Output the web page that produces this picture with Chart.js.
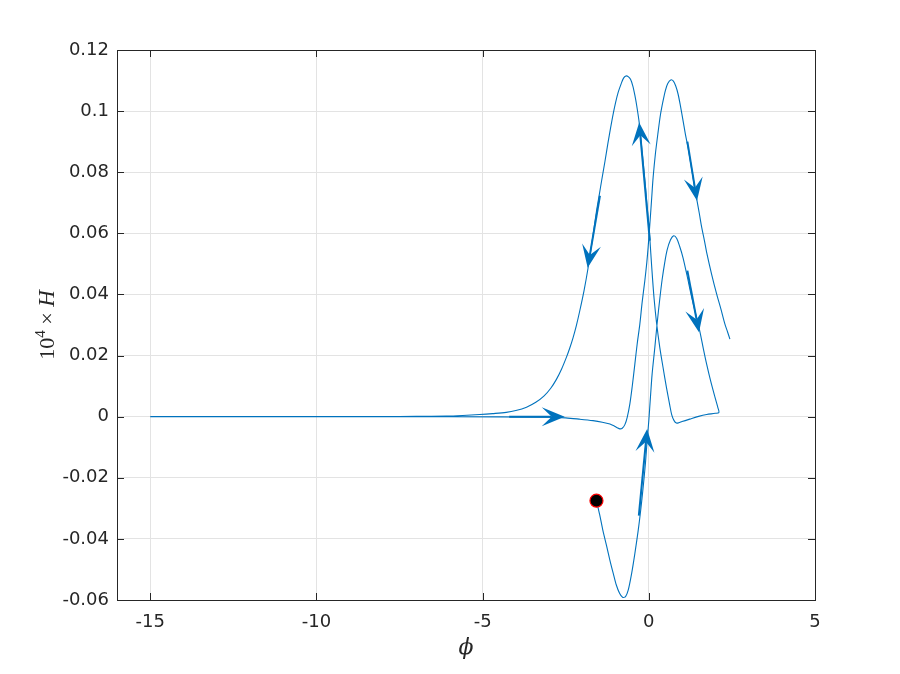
<!DOCTYPE html>
<html>
<head>
<meta charset="utf-8">
<script src="https://cdn.jsdelivr.net/npm/chart.js@4.4.1/dist/chart.umd.min.js"></script>
<style>
    html, body { margin: 0; padding: 0; background: #fff; }
    #wrap { width: 900px; height: 674px; }
</style>
</head>
<body>
<div id="wrap"><canvas id="phaseChart" width="900" height="674"></canvas></div>
<script>
// trajectory (phi, 10^4 H) in drawing order
const trajX = [-1.575, -1.48, -1.38, -1.27, -1.17, -1.07, -0.98, -0.88, -0.79, -0.7, -0.62, -0.52, -0.42, -0.32, -0.24, -0.17, -0.1, -0.05, 0.0,
    0.05, 0.1, 0.18, 0.25, 0.33, 0.4, 0.48, 0.55, 0.65, 0.75, 0.84, 0.93, 1.03, 1.15, 1.3, 1.42, 1.54, 1.64, 1.74, 1.86, 1.99, 2.08, 2.11,
    2.0, 1.74, 1.5, 1.23, 1.0, 0.9, 0.83, 0.76, 0.69, 0.63, 0.53, 0.43, 0.33, 0.23, 0.16, 0.11, 0.06, 0.01,
    -0.05, -0.1, -0.2, -0.29, -0.36, -0.42, -0.48, -0.55, -0.62, -0.69, -0.76, -0.83, -0.92, -1.0, -1.07, -1.15, -1.23, -1.32, -1.42, -1.5, -1.58, -1.7, -1.83,
    -1.95, -2.08, -2.18, -2.28, -2.38, -2.48, -2.62, -2.78, -2.95, -3.15, -3.4, -3.68, -4.0, -4.29, -4.7, -5.09, -5.6, -6.09, -7, -8, -11, -15,
    -11, -6, -3, -2.5, -2.1, -1.68, -1.4, -1.17, -1.03, -0.95, -0.87, -0.8, -0.72, -0.65, -0.57, -0.5, -0.42, -0.35, -0.27, -0.2, -0.12, -0.06, -0.02, 0.03,
    0.08, 0.13, 0.2, 0.28, 0.35, 0.43, 0.5, 0.57, 0.66, 0.74, 0.81, 0.88, 0.95, 1.03, 1.1, 1.18, 1.25, 1.32, 1.38, 1.45, 1.52, 1.59, 1.67, 1.74, 1.89, 2.04, 2.17, 2.29, 2.37, 2.44];
const trajY = [-0.0275, -0.032, -0.0373, -0.0423, -0.047, -0.0513, -0.055, -0.0578, -0.0591, -0.0589, -0.0568, -0.0515, -0.0448, -0.0373, -0.0302, -0.0231, -0.0151, -0.0079, -0.0013,
    0.0065, 0.014, 0.0225, 0.0305, 0.0385, 0.0448, 0.0505, 0.0545, 0.0578, 0.0592, 0.0583, 0.0557, 0.052, 0.0462, 0.0386, 0.0332, 0.0277, 0.0223, 0.0172, 0.0117, 0.0064, 0.0029, 0.0014,
    0.0011, 0.0007, 0.0001, -0.0008, -0.0016, -0.002, -0.0021, -0.0013, 0.0006, 0.0038, 0.0096, 0.016, 0.0227, 0.031, 0.0385, 0.0455, 0.0535, 0.0615,
    0.0685, 0.0752, 0.0865, 0.0963, 0.1015, 0.1052, 0.1082, 0.1104, 0.1113, 0.1115, 0.1108, 0.109, 0.1062, 0.1028, 0.0992, 0.0945, 0.0895, 0.0835, 0.0772, 0.072, 0.0668, 0.0578, 0.0485,
    0.0412, 0.0345, 0.0298, 0.0258, 0.0224, 0.0194, 0.0157, 0.0122, 0.0093, 0.0068, 0.0047, 0.0031, 0.002, 0.0014, 0.001, 0.0007, 0.0004, 0.0002, 0.0001, 0, 0, 0,
    0, 0, -0.0002, -0.0004, -0.0008, -0.0013, -0.0018, -0.0024, -0.0031, -0.0036, -0.004, -0.0038, -0.0026, -0.0002, 0.0042, 0.0098, 0.0172, 0.0238, 0.0303, 0.0375, 0.0445, 0.0505, 0.0555, 0.0628,
    0.0705, 0.0783, 0.0862, 0.0932, 0.0988, 0.1034, 0.1068, 0.109, 0.1102, 0.1098, 0.1082, 0.1056, 0.1018, 0.0969, 0.0925, 0.0881, 0.0836, 0.079, 0.0748, 0.0707, 0.0665, 0.062, 0.0578, 0.0538, 0.0466, 0.0402, 0.0352, 0.0303, 0.0277, 0.0254];

// starting point
const startX = [-1.575];
const startY = [-0.0275];

// direction arrows: tail -> head
const arrowFromX = [-4.2, -0.30, 0.03, 1.16, -1.47, 1.16];
const arrowFromY = [0, -0.0324, 0.0576, 0.090, 0.0723, 0.0478];
const arrowToX = [-2.53, -0.05, -0.29, 1.45, -1.84, 1.51];
const arrowToY = [0, -0.004, 0.0963, 0.0707, 0.0487, 0.0276];

// axis ticks
const xTicks = [-15, -10, -5, 0, 5];
const xTickLabels = ['-15', '-10', '-5', '0', '5'];
const yTicks = [-0.06, -0.04, -0.02, 0, 0.02, 0.04, 0.06, 0.08, 0.1, 0.12];
const yTickLabels = ['-0.06', '-0.04', '-0.02', '0', '0.02', '0.04', '0.06', '0.08', '0.1', '0.12'];

const lineColor = '#0072BD';
const axisColor = '#262626';
const tickFont = { family: '"DejaVu Sans", "Liberation Sans", sans-serif', size: 18 };

// arrows, inner ticks, box and axis titles
const decorPlugin = {
    id: 'decor',
    afterDatasetsDraw(chart) {
        const { ctx, scales: { x, y } } = chart;
        ctx.save();
        ctx.strokeStyle = lineColor;
        ctx.fillStyle = lineColor;
        for (let i = 0; i < arrowFromX.length; i++) {
            const x0 = x.getPixelForValue(arrowFromX[i]);
            const y0 = y.getPixelForValue(arrowFromY[i]);
            const x1 = x.getPixelForValue(arrowToX[i]);
            const y1 = y.getPixelForValue(arrowToY[i]);
            const len = Math.hypot(x1 - x0, y1 - y0);
            const ux = (x1 - x0) / len, uy = (y1 - y0) / len;
            const nx = -uy, ny = ux;
            const L = 23, W = 9.5, N = 10;
            ctx.lineWidth = 2;
            ctx.beginPath();
            ctx.moveTo(x0, y0);
            ctx.lineTo(x1 - ux * (L - N), y1 - uy * (L - N));
            ctx.stroke();
            ctx.beginPath();
            ctx.moveTo(x1, y1);
            ctx.lineTo(x1 - ux * L + nx * W, y1 - uy * L + ny * W);
            ctx.lineTo(x1 - ux * (L - N), y1 - uy * (L - N));
            ctx.lineTo(x1 - ux * L - nx * W, y1 - uy * L - ny * W);
            ctx.closePath();
            ctx.fill();
        }
        ctx.restore();
    },
    afterDraw(chart) {
        const { ctx, chartArea: a, scales: { x, y } } = chart;
        ctx.save();
        ctx.strokeStyle = axisColor;
        ctx.lineWidth = 1;
        ctx.beginPath();
        xTicks.forEach(v => {
            const px = Math.round(x.getPixelForValue(v)) + 0.5;
            ctx.moveTo(px, a.bottom); ctx.lineTo(px, a.bottom - 7);
            ctx.moveTo(px, a.top); ctx.lineTo(px, a.top + 7);
        });
        yTicks.forEach(v => {
            const py = Math.round(y.getPixelForValue(v)) + 0.5;
            ctx.moveTo(a.left, py); ctx.lineTo(a.left + 7, py);
            ctx.moveTo(a.right, py); ctx.lineTo(a.right - 7, py);
        });
        ctx.stroke();
        ctx.strokeRect(Math.round(a.left) + 0.5, Math.round(a.top) + 0.5,
            Math.round(a.right - a.left), Math.round(a.bottom - a.top));

        // x title
        ctx.fillStyle = axisColor;
        ctx.textAlign = 'center';
        ctx.textBaseline = 'middle';
        ctx.font = 'italic 22px "DejaVu Serif", "Liberation Serif", serif';
        ctx.fillText('\u03D5', (a.left + a.right) / 2, 648);

        // y title: 10^4 x H
        const big = '22px "Liberation Serif", serif';
        const small = '15px "Liberation Serif", serif';
        const ital = 'italic 23px "Liberation Serif", serif';
        const parts = [['10', big, 0], ['4', small, -9], [' \u00D7 ', big, 0], ['H', ital, 0]];
        let total = 0;
        parts.forEach(p => { ctx.font = p[1]; total += ctx.measureText(p[0]).width; });
        ctx.translate(46, (a.top + a.bottom) / 2);
        ctx.rotate(-Math.PI / 2);
        ctx.textAlign = 'left';
        ctx.textBaseline = 'alphabetic';
        let cx = -total / 2;
        parts.forEach(p => {
            ctx.font = p[1];
            ctx.fillText(p[0], cx, 8 + p[2]);
            cx += ctx.measureText(p[0]).width;
        });
        ctx.restore();
    }
};

const ctxPhase = document.getElementById('phaseChart');
const phaseChart = new Chart(ctxPhase, {
    type: 'line',
    data: {
        datasets: [{
            label: 'start',
            data: startX.map((v, i) => ({ x: v, y: startY[i] })),
            showLine: false,
            pointRadius: 6.5,
            pointBackgroundColor: '#000000',
            pointBorderColor: '#ff0000',
            pointBorderWidth: 1.2,
            order: 0
        }, {
            label: 'H',
            data: trajX.map((v, i) => ({ x: v, y: trajY[i] })),
            borderColor: lineColor,
            borderWidth: 1.1,
            pointRadius: 0,
            tension: 0.3,
            fill: false,
            order: 1
        }]
    },
    options: {
        responsive: false,
        animation: false,
        layout: { padding: { left: 30, right: 85, top: 50, bottom: 0 } },
        plugins: {
            legend: { display: false },
            tooltip: { enabled: false }
        },
        scales: {
            x: {
                type: 'linear',
                min: -16,
                max: 5,
                afterBuildTicks: s => { s.ticks = xTicks.map(v => ({ value: v })); },
                afterFit: s => { s.height = 74; },
                ticks: {
                    color: axisColor,
                    font: tickFont,
                    padding: 12,
                    maxRotation: 0,
                    callback: (v, i) => xTickLabels[i]
                },
                grid: { color: '#e3e3e3', drawTicks: false },
                border: { display: false }
            },
            y: {
                type: 'linear',
                min: -0.06,
                max: 0.12,
                afterBuildTicks: s => { s.ticks = yTicks.map(v => ({ value: v })); },
                afterFit: s => { s.width = 87; },
                ticks: {
                    color: axisColor,
                    font: tickFont,
                    padding: 8,
                    callback: (v, i) => yTickLabels[i]
                },
                grid: { color: '#e3e3e3', drawTicks: false },
                border: { display: false }
            }
        }
    },
    plugins: [decorPlugin]
});
</script>
</body>
</html>
